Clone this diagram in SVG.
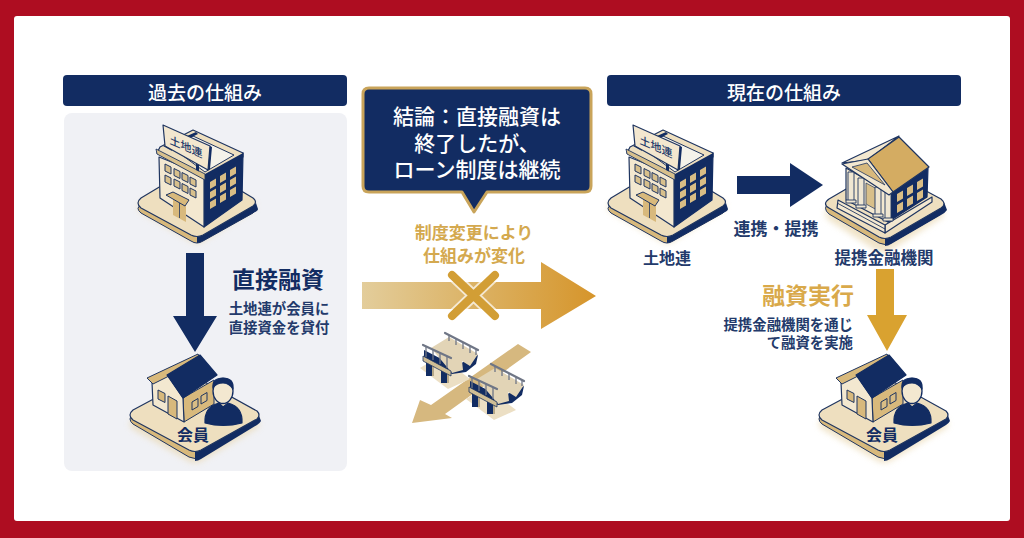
<svg xmlns="http://www.w3.org/2000/svg" width="1024" height="538" viewBox="0 0 1024 538">
<style>
text{font-family:"Noto Sans CJK JP","Noto Sans",sans-serif;dominant-baseline:central;text-anchor:middle}
.n{fill:#122c62}.ns{fill:#122c62;stroke:#122c62;stroke-width:1.2;stroke-linejoin:round}
.c{fill:#eedfbf;stroke:#1f3560;stroke-width:1.2;stroke-linejoin:round}
.l{fill:#f3e8d0;stroke:#1f3560;stroke-width:1.2;stroke-linejoin:round}
.t{fill:#d8b97c;stroke:#1f3560;stroke-width:1;stroke-linejoin:round}
.w{fill:#d8c08c;stroke:#1f3560;stroke-width:1}
.wt{fill:#d9bd85}
.r{fill:none;stroke:#6f7686;stroke-width:2.200;stroke-linecap:round}
.p{fill:none;stroke:#6f7686;stroke-width:1.300}
.nav{fill:#122c62;font-weight:700}
.gold{fill:#d6a33a;font-weight:700}
.h{fill:#fff;font-size:19px;font-weight:500}
.lab{fill:#233a6b;font-weight:700}
.col{fill:#efe6d2;stroke:#1f3560;stroke-width:.900}
</style>
<defs>
<linearGradient id="ga" x1="362" x2="596" y1="0" y2="0" gradientUnits="userSpaceOnUse"><stop offset="0" stop-color="#e3cd9b"/><stop offset="0.45" stop-color="#dcb468"/><stop offset="1" stop-color="#d6952b"/></linearGradient>
<filter id="bl" x="-20%" y="-20%" width="140%" height="140%"><feGaussianBlur stdDeviation="3"/></filter>
<g id="building">
<path d="M141,202 L191,172 Q197,169 203,172 L253,202 Q258,206 253,210 L203,241 Q197,245 191,241 L141,212 Q135,207 141,202Z" fill="#e9d7ae" opacity=".7" filter="url(#bl)"/>
<path d="M141,205 L191,175 L203,175 L253,205 Q258,209 253,213 L203,241 Q197,245 191,241 L141,213 Q135,208 141,205Z" class="t"/>
<path d="M197,236 L256,203 L258,209 Q258,211 253,213 L203,241 Q199,243 197,243Z" class="n"/>
<path d="M141,198 L191,168 Q197,165 203,168 L253,198 Q258,202 253,206 L203,235 Q197,238 191,235 L141,208 Q135,203 141,198Z" class="c"/>
<path d="M204,173 L243,153 L242,200 L204,227Z" class="ns"/>
<path d="M159,157 L204,175 L204,227 L160,198Z" class="l"/>
<path d="M160,147 L193,130 L243,153 L243,157 L205,179 L157,153Z" class="c"/>
<path d="M171,147 L193,136 L234,155 L205,172Z" fill="#f4f2ea" stroke="#1f3560" stroke-width="1"/>
<path d="M187,136 L196,132 L198,134 L190,138Z" class="n"/>
<path d="M205,174 L243,153 L243,158 L205,180Z" class="n"/>
<path d="M156,149 L205,174 L205,180 L157,154Z" fill="#d8c08c" stroke="#1f3560" stroke-width=".9"/>
<path d="M163,146 L172,151 L170,144Z" class="n"/>
<path d="M196,163 l3,1.500v7l-3,-1.500z" class="n"/>
<path d="M163,125 L210,146 L208,170 L165,146Z" class="l" style="fill:#f3e7cf"/>
<path d="M210,146 L212,147 L210,169 L208,170Z" class="n"/>
<path d="M165,164 l6,3v7l-6,-3zM174,168.500 l6,3v7l-6,-3zM182,172.500 l6,3v7l-6,-3zM190,177 l6,3v7l-6,-3zM165,175 l6,3v7l-6,-3zM174,179 l6,3v7l-6,-3zM182,183.500 l6,3v7l-6,-3zM190,188 l6,3v7l-6,-3z" class="w"/>
<path d="M210,182 l6,-3.500v7l-6,3.500zM220,176 l6,-3.500v7l-6,3.500zM230,170 l6,-3.500v7l-6,3.500zM210,192 l6,-3.500v7l-6,3.500zM220,186 l6,-3.500v7l-6,3.500zM230,180 l6,-3.500v7l-6,3.500zM210,202 l6,-3.500v7l-6,3.500zM220,196 l6,-3.500v7l-6,3.500zM230,190 l6,-3.500v7l-6,3.500z" class="wt"/>
<path d="M173,199 L186,206 V222 L173,215Z" fill="#d8b97c"/>
<path d="M179.500,203 V218" stroke="#1f3560" stroke-width=".8" fill="none"/>
<path d="M166,195 L173,192 L189,200 L185,206Z" class="t"/>
</g>
<g id="house">
<path d="M133,410 L189,380 Q195,377 201,380 L257,411 Q261,415 257,419 L201,452 Q195,455 189,452 L133,420 Q127,415 133,410Z" transform="translate(0,9)" fill="#e9d7ae" opacity=".7" filter="url(#bl)"/>
<path d="M133,414 L189,384 L201,384 L257,415 Q261,419 257,423 L201,457 Q195,460 189,457 L133,424 Q127,419 133,414Z" class="t"/>
<path d="M195,451 L258,413 L261,421 Q260,423 257,425 L201,459 Q198,461 195,461Z" class="n"/>
<path d="M133,410 L189,380 Q195,377 201,380 L257,411 Q261,415 257,419 L201,450 Q195,453 189,450 L133,420 Q127,415 133,410Z" class="c"/>
<path d="M183,398 L214,380 L214,404 L184,422Z" class="t"/>
<path d="M152,382 L167,374 L183,398 L184,422 L153,405Z" class="l"/>
<path d="M147,378 L198,354 L200,358 L167,377 L153,384Z" class="t"/>
<path d="M200,355 L217,375 L183,398 L167,375Z" class="ns"/>
<path d="M158,390 l7,3.500v9l-7,-3.500z M168,396 l9,5v18l-9,-5z" class="t"/>
<path d="M192,402 l6,-3.500v8l-6,3.500zM201,396 l6,-3.500v8l-6,3.500z" fill="#d9bd85" stroke="#1f3560"/>
<ellipse cx="223" cy="391" rx="10" ry="12.500" fill="#f3e8d0" stroke="#122c62" stroke-width="1.300"/>
<path d="M213,388 Q212,378 223,378 Q234,378 233,389 Q229,383 223,383 Q216,383 213,388Z" class="ns"/>
<path d="M205,423 Q204,407 219,403 L223,407 L228,403 Q243,407 242,423 Q223,428 205,423Z" class="ns"/>
<text x="193" y="434" class="nav" font-size="16">会員</text>
</g>
<g id="bridge">
<path d="M420,368 L440,356 L470,379 L448,389Z" fill="#ecdfc4"/>
<path d="M424,350 L424,358 L452,374 L466,372 L476,364 L478,355 L455,366Z" class="n"/>
<path d="M426,362 h6 v14 h-6z M441,369 h6 v14 h-6z" class="n"/>
<path d="M432,362 h2 v14 h-2z M447,369 h2 v14 h-2z" fill="#b7a888"/>
<path d="M431,348 L449,337 L478,354 L470,366 L462,361 L463,370 L452,373Z" fill="#e2d4b6"/>
<path d="M423,356 L451,371 L451,376 L423,361Z" fill="#cfbd94" stroke="#1f3560" stroke-width=".8"/>
<path d="M445,333 L478,350" class="r"/>
<path d="M449,335 V341 M456,339 V345 M463,342 V349 M470,346 V353 M476,349 V355" class="p"/>
<path d="M423,345 L451,358" class="r"/>
<path d="M426,347 V357 M433,350 V360 M440,353 V364 M447,356 V368" class="p"/>
</g>
</defs>
<rect width="1024" height="538" fill="#ae0d21"/>
<rect x="14" y="16" width="996" height="505" rx="3" fill="#fff"/>
<rect id="panel" x="64" y="113" width="283" height="358" rx="8" fill="#f0f1f5"/>
<g id="header-left"><rect x="63" y="75" width="284" height="31" rx="4" class="n"/><text x="205" y="91" class="h">過去の仕組み</text></g>
<g id="header-right"><rect x="607" y="75" width="354" height="31" rx="4" class="n"/><text x="784" y="91" class="h">現在の仕組み</text></g>
<g id="connectors">
<path d="M186,253 H204 V316 H217 L195,352 L173,316 H186Z" class="n"/>
<path d="M518,344 L531,352 L445,414 L452,418 L412,423 L420,400 L431,405Z" fill="#d6b87f"/>
<path d="M362,282 H541 V262 L596,296 L541,329 V309 H362Z" fill="url(#ga)"/>
<path d="M737,176 H790 V163 L823,185 L790,207 V194 H737Z" class="n"/>
<path d="M876,269 H894 V315 H907 L887,351 L867,315 H876Z" fill="#d9a230"/>
</g>
<g id="node-cross">
<path d="M452,275 L495,316 M495,275 L452,316" stroke="#fff" stroke-opacity=".7" stroke-width="12" fill="none"/>
<path d="M452,275 L495,316 M495,275 L452,316" stroke="#d29e35" stroke-width="8" fill="none" stroke-linecap="round"/>
</g>
<g id="node-bridges">
<use href="#bridge"/>
<use href="#bridge" transform="translate(46,31)"/>
</g>
<g id="node-old-landren">
<use href="#building"/>
<text transform="matrix(1,.44,0,1,186,146)" x="0" y="0" font-size="11" fill="#233a6b" font-weight="500">土地連</text>
</g>
<g id="node-old-member"><use href="#house"/></g>
<g id="label-direct">
<text x="278" y="278" class="nav" font-size="23">直接融資</text>
<text x="279" y="307" class="lab" font-size="14.400">土地連が会員に</text>
<text x="279" y="326" class="lab" font-size="14.400">直接資金を貸付</text>
</g>
<g id="node-callout">
<path d="M369,88 H585 Q591,88 591,94 V186 Q591,192 585,192 H487 L474,212 L462,192 H369 Q363,192 363,186 V94 Q363,88 369,88Z" class="n" stroke="#c9a45a" stroke-width="3" stroke-linejoin="round"/>
<text x="477" y="115" fill="#fff" font-size="21" font-weight="500">結論：直接融資は</text>
<text x="477" y="142" fill="#fff" font-size="21" font-weight="500">終了したが、</text>
<text x="477" y="168" fill="#fff" font-size="21" font-weight="500">ローン制度は継続</text>
</g>
<g id="label-change">
<text x="474" y="231" font-size="17" fill="#d4a94f" font-weight="700">制度変更により</text>
<text x="474" y="254" font-size="17" fill="#d4a94f" font-weight="700">仕組みが変化</text>
</g>
<g id="node-new-landren">
<use href="#building" transform="translate(470,0)"/>
<text transform="matrix(1,.44,0,1,656,146)" x="0" y="0" font-size="11" fill="#233a6b" font-weight="500">土地連</text>
<text x="667" y="257" class="lab" font-size="16">土地連</text>
</g>
<text id="label-link" x="776" y="227" class="lab" font-size="17">連携・提携</text>
<g id="node-bank">
<path d="M829,199 L877,171 Q883,168 889,171 L941,199 Q946,205 941,210 L889,243 Q883,246 877,243 L829,212 Q822,205 829,199Z" transform="translate(0,8)" fill="#e9d7ae" opacity=".7" filter="url(#bl)"/>
<path d="M829,203 L877,175 L889,175 L941,203 Q947,209 941,214 L891,243 Q885,246 879,243 L829,214 Q822,208 829,203Z" class="t"/>
<path d="M885,237 L944,202 L947,210 Q945,213 941,215 L891,244 Q888,246 885,246Z" class="n"/>
<path d="M829,199 L877,171 Q883,168 889,171 L941,199 Q947,204 941,208 L891,237 Q885,240 879,237 L829,208 Q822,204 829,199Z" class="c"/>
<path d="M885,225 L932,197 V202 L885,233Z" class="l"/>
<path d="M838,200 L885,225 V233 L837,208Z" class="l"/>
<path d="M838,203.500 L885,229" fill="none" stroke="#1f3560" stroke-width=".9"/>
<path d="M888,193 L928,168 L927,197 L888,222Z" class="ns"/>
<path d="M846,168 L888,192 V222 L846,200Z" class="l"/>
<path d="M866,183 l11,6 v21 l-11,-6z" fill="#d8bf8a" stroke="#1f3560" stroke-width=".7"/>
<path d="M848,172 h6 v30 h-6z M858,178 h6 v29 h-6z M875,187 h6 v29 h-6z M885,192 h6 v28 h-6z" class="col"/>
<path d="M846,200 h10 v3 h-10z M856,205 h10 v3 h-10z M873,214 h10 v3 h-10z M883,218 h10 v3 h-10z" class="col"/>
<path d="M897,194 l6,-3.500v8l-6,3.500zM907,188 l6,-3.500v8l-6,3.500zM917,182 l6,-3.500v8l-6,3.500zM897,205 l6,-3.500v8l-6,3.500zM907,199 l6,-3.500v8l-6,3.500zM917,193 l6,-3.500v8l-6,3.500z" class="wt"/>
<path d="M842,163 L899,136 L868,160 Z" class="l"/>
<path d="M899,137 L929,167 L893,192 L868,159Z" fill="#d4ac62" stroke="#1f3560" stroke-width="1.200" stroke-linejoin="round"/>
<path d="M842,164 L868,159 L893,192 L889,195 Z" class="l"/>
<path d="M852,167 L867,163 L885,185Z" fill="#d8b97c" stroke="#1f3560" stroke-width=".8"/>
<text x="884" y="257" class="lab" font-size="16.500">提携金融機関</text>
</g>
<g id="label-loan">
<text x="808" y="294" font-size="23" fill="#d9a94a" font-weight="700">融資実行</text>
<text x="853" y="323" class="lab" font-size="14.400" style="text-anchor:end">提携金融機関を通じ</text>
<text x="853" y="341" class="lab" font-size="14.400" style="text-anchor:end">て融資を実施</text>
</g>
<g id="node-new-member"><use href="#house" transform="translate(689,0)"/></g>
</svg>
